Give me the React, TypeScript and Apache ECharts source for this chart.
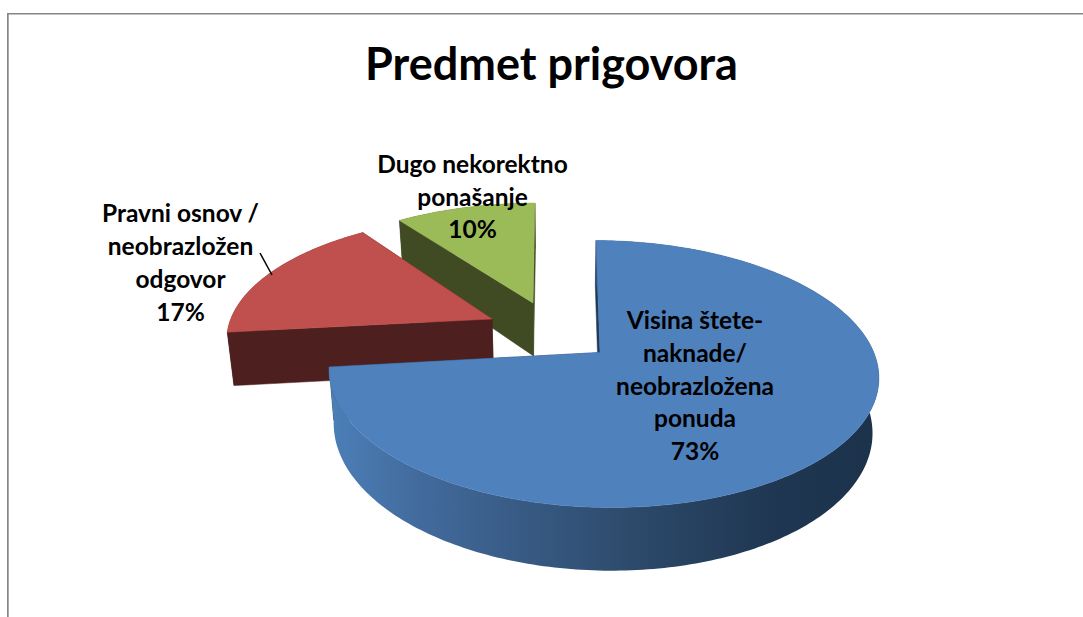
import React, { useEffect, useRef } from "react";
import * as echarts from "echarts";

const categories = ["Visina štete-naknade/ neobrazložena ponuda", "Pravni osnov / neobrazložen odgovor", "Dugo nekorektno ponašanje"];
const values = [73, 17, 10];
const labelLines = [
  "Visina štete-\nnaknade/\nneobrazložena\nponuda\n73%",
  "Pravni osnov /\nneobrazložen\nodgovor\n17%",
  "Dugo nekorektno\nponašanje\n10%",
];
const titleText = "Predmet prigovora";

// Camera and per-slice placement (screen layout, not data)
const K = 0.161, M = 0.012, BX = 274, AY = 130, HB = 53, VX = 560, VC = 0.02;
const slices = [
  { ax: 600, ay: 352.5, sx: 0.99, sy: 1, lx: -4, sk: 2 },
  { ax: 492, ay: 319, sx: 0.962, sy: 0.922, lx: 8.5, sk: 2 },
  { ax: 533, ay: 303, sx: 0.955, sy: 0.893, lx: 2, sk: 0 },
];
const topColors = ["#4F81BD", "#C0504D", "#9BBB59"];
const faceColors = ["#1F3A57", "#4D1F1E", "#404B23"];
const labelPos = [[695, 385], [180.5, 262], [472.5, 196]];

function project(i: number, deg: number, radius = 1) {
  const s = slices[i];
  const t = (deg * Math.PI) / 180;
  const u = Math.sin(t) * radius, v = Math.cos(t) * radius;
  const w = 1 + K * v - M * u;
  return {
    x: s.ax + (s.sx * BX * u) / w + s.lx * v,
    y: s.ay - (s.sy * AY * v) / w + s.sk * u,
    w,
  };
}
function drop(p: { x: number; y: number; w: number }) {
  return [p.x + (VX - p.x) * VC, p.y + HB / p.w];
}

function renderSlice(_: any, api: any) {
  const i = api.value(0);
  const value = api.value(1);
  const total = values.reduce((a, b) => a + b, 0);
  const before = values.slice(0, i).reduce((a, b) => a + b, 0);
  const a0 = (before / total) * 360;
  const a1 = ((before + value) / total) * 360;
  const n = Math.max(8, Math.round(a1 - a0));
  const arc: any[] = [];
  for (let k = 0; k <= n; k++) arc.push(project(i, a0 + ((a1 - a0) * k) / n));
  const apex = project(i, 0, 0);
  const top = [[apex.x, apex.y], ...arc.map((p) => [p.x, p.y])];
  const wall = [...arc.map((p) => [p.x, p.y]), ...arc.slice().reverse().map(drop)];
  const faceFor = (p: any) => [[apex.x, apex.y], [p.x, p.y], drop(p), drop(apex)];
  const wallFill =
    i === 0
      ? new echarts.graphic.LinearGradient(0, 0, 1, 0, [
          { offset: 0, color: "#4C7FB8" },
          { offset: 0.18, color: "#41699A" },
          { offset: 0.55, color: "#2D4A6B" },
          { offset: 0.8, color: "#1F3752" },
          { offset: 1, color: "#1C324B" },
        ])
      : faceColors[i];
  const face = { fill: faceColors[i], stroke: faceColors[i], lineWidth: 0.5 };
  return {
    type: "group",
    children: [
      { type: "polygon", shape: { points: faceFor(arc[0]) }, style: face },
      { type: "polygon", shape: { points: faceFor(arc[arc.length - 1]) }, style: face },
      { type: "polygon", shape: { points: wall }, style: { fill: wallFill } },
      { type: "polygon", shape: { points: top }, style: { fill: topColors[i], stroke: topColors[i], lineWidth: 0.5 } },
    ],
  };
}

function renderLabel(_: any, api: any) {
  const i = api.value(0);
  return {
    type: "text",
    x: labelPos[i][0],
    y: labelPos[i][1],
    style: {
      text: labelLines[i],
      fill: "#000",
      font: 'bold 24.5px Lato',
      lineHeight: 32.7,
      align: "center",
      verticalAlign: "middle",
    },
  };
}

export default function App() {
  const ref = useRef<HTMLDivElement>(null);
  useEffect(() => {
    const chart = echarts.init(ref.current!, undefined, { renderer: "svg" });
    const rows = categories.map((name, i) => ({ name, value: [i, values[i]] }));
    chart.setOption({
      animation: false,
      backgroundColor: "#fff",
      title: {
        text: titleText,
        left: 546.5,
        top: 35,
        textAlign: "center",
        textStyle: { fontFamily: "Lato", fontWeight: "bold", fontSize: 45, color: "#000" },
      },
      graphic: [
        { type: "rect", shape: { x: 7, y: 13, width: 1076, height: 1.5 }, style: { fill: "#868686" } },
        { type: "rect", shape: { x: 7, y: 13, width: 1.7, height: 604 }, style: { fill: "#868686" } },
        { type: "line", z: 20, shape: { x1: 260, y1: 253, x2: 272, y2: 275 }, style: { stroke: "#000", lineWidth: 1.5 } },
      ],
      series: [
        { type: "custom", coordinateSystem: "none", renderItem: renderSlice, data: rows.slice().reverse(), z: 2, silent: true },
        { type: "custom", coordinateSystem: "none", renderItem: renderLabel, data: rows, z: 5, silent: true },
      ],
    });
    return () => chart.dispose();
  }, []);
  return <div ref={ref} style={{ position: "fixed", left: 0, top: 0, width: 1083, height: 617 }} />;
}
